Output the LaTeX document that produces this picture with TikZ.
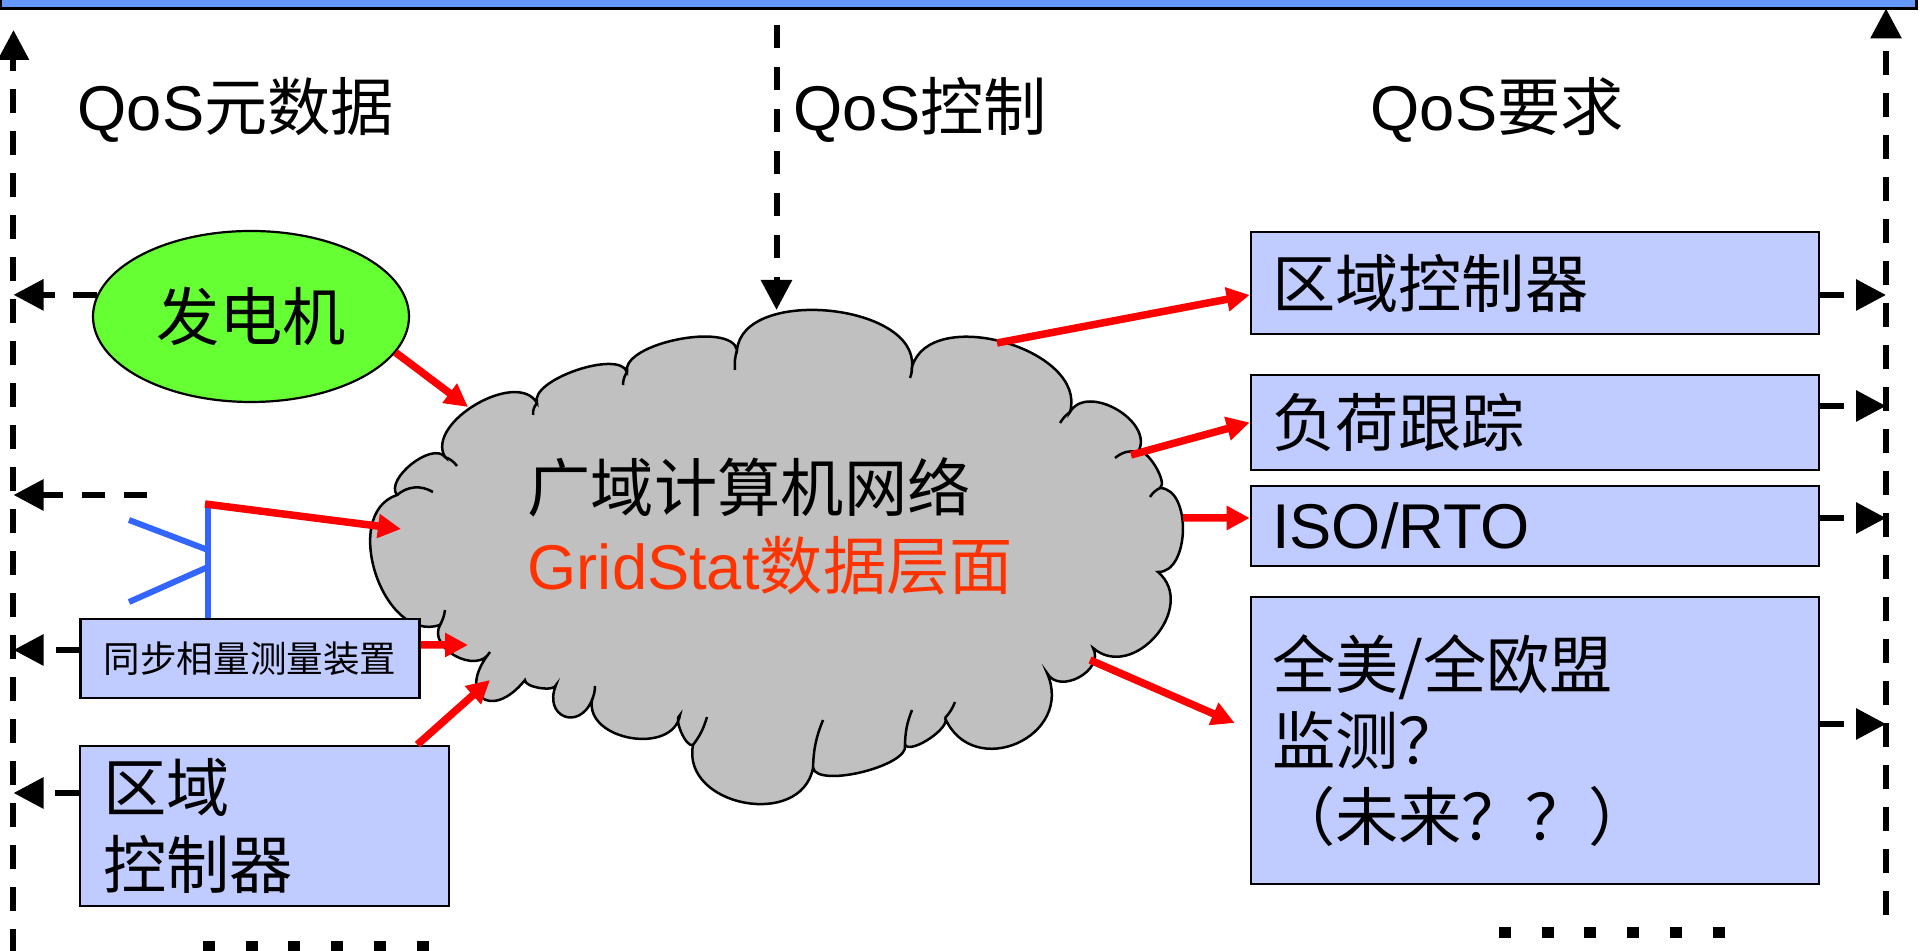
\documentclass[tikz,border=0pt]{standalone}
\usepackage{fontspec}
\setmainfont{Liberation Sans}
\newfontfamily\cjk{Noto Sans CJK SC}
\usetikzlibrary{shapes.geometric, arrows.meta}

\definecolor{barblue}{RGB}{102,153,255}
\definecolor{gengreen}{RGB}{102,255,51}
\definecolor{boxblue}{RGB}{192,203,255}
\definecolor{netgray}{RGB}{192,192,192}
\definecolor{planered}{RGB}{255,51,0}
\definecolor{mastblue}{RGB}{51,102,255}

\tikzset{
  qos/.style={line width=0.06cm, dash pattern=on 0.235cm off 0.185cm,
    -{Triangle[length=0.3cm, width=0.3cm]}},
  feed/.style={red, line width=0.075cm, -{Triangle[length=0.23cm, width=0.23cm]}},
  reqbox/.style={draw, fill=boxblue, line width=0.027cm, text width=5.26cm,
    inner xsep=0.21cm, inner ysep=0, align=left},
  devbox/.style={draw, fill=boxblue, line width=0.027cm, inner sep=0},
  mastline/.style={mastblue, line width=0.06cm},
  etcdots/.style={line width=0.11cm, dash pattern=on 0.12cm off 0.307cm},
}

\begin{document}
\begin{tikzpicture}[font=\fontsize{18}{21.6}\selectfont]
	\useasboundingbox (0,0) rectangle (19.2,-9.51);

	% top bar, cut by the page edge
	\node[draw, fill=barblue, line width=0.03cm, anchor=south west, inner sep=0,
		outer sep=0, minimum width=19.16cm, minimum height=1cm] (topbar) at (0.008,-0.085) {};

	\node[anchor=base west, inner sep=0] (metalabel) at (0.77,-1.31) {QoS{\cjk 元数据}};
	\node[anchor=base west, inner sep=0] (ctrllabel) at (7.93,-1.31) {QoS{\cjk 控制}};
	\node[anchor=base west, inner sep=0] (reqlabel)  at (13.70,-1.31) {QoS{\cjk 要求}};

	% the network cloud
	\draw[fill=netgray, line width=0.025cm] (4.40,-6.25)
		to[bend left=90, looseness=1.12] (3.97,-4.95)
		to[bend left=90, looseness=0.85] (4.45,-4.57)
		to[bend left=90, looseness=0.95] (5.37,-4.03)
		to[bend left=90, looseness=0.65] (6.27,-3.72)
		to[bend left=90, looseness=0.67] (7.37,-3.50)
		to[bend left=90, looseness=0.93] (9.12,-3.67)
		to[bend left=90, looseness=1.02] (10.70,-4.12)
		to[bend left=90, looseness=1.12] (11.38,-4.52)
		to[bend left=90, looseness=0.6]  (11.60,-4.88)
		to[bend left=90, looseness=0.97] (11.58,-5.72)
		to[bend left=90, looseness=1.36] (10.93,-6.48)
		to[bend left=90, looseness=1.24] (10.47,-6.73)
		to[bend left=90, looseness=1.6]  (9.45,-7.18)
		to[bend left=90, looseness=0.6]  (9.05,-7.45)
		to[bend left=90, looseness=0.57] (8.13,-7.68)
		to[bend left=90, looseness=1.31] (6.93,-7.45)
		to[bend left=90, looseness=0.6]  (6.80,-7.15)
		to[bend left=90, looseness=1.18] (5.92,-7.00)
		to[bend left=90, looseness=2.25] (5.56,-6.85)
		to[bend left=90, looseness=0.6]  (5.25,-6.80)
		to[bend left=90, looseness=3.1]  (4.90,-6.52)
		to[bend left=90, looseness=1.2]  (4.40,-6.25) -- cycle;
	% creases of the cloud
	\draw[line width=0.025cm]
		(3.97,-4.95) to[bend left=35] (4.33,-4.92)
		(4.45,-4.57) to[bend left=15] (4.57,-4.66)
		(5.37,-4.03) to[bend right=20] (5.33,-4.15)
		(6.27,-3.72) to[bend right=15] (6.23,-3.85)
		(7.37,-3.50) to[bend right=10] (7.35,-3.70)
		(9.12,-3.67) to[bend left=10] (9.10,-3.78)
		(10.70,-4.12) to[bend right=10] (10.60,-4.23)
		(11.38,-4.52) to[bend right=25] (11.15,-4.58)
		(11.60,-4.88) to[bend right=15] (11.50,-4.97)
		(9.45,-7.18) to[bend right=10] (9.55,-7.02)
		(9.05,-7.45) to[bend left=10] (9.12,-7.10)
		(8.13,-7.68) to[bend left=10] (8.23,-7.20)
		(6.93,-7.45) to[bend right=10] (7.07,-7.17)
		(5.92,-7.00) to[bend right=10] (5.95,-6.86)
		(4.40,-6.25) to[bend right=10] (4.45,-6.10);

	\node[anchor=base west, inner sep=0] (netname) at (5.27,-5.12) {{\cjk 广域计算机网络}};
	\node[anchor=base west, inner sep=0, text=planered] (netplane) at (5.27,-5.90)
		{GridStat{\cjk 数据层面}};

	% sources on the left
	\node[ellipse, draw, fill=gengreen, line width=0.022cm, minimum width=3.16cm,
		minimum height=1.71cm, inner sep=0] (gen) at (2.51,-3.165) {{\cjk 发电机}};
	\node[devbox, minimum width=3.39cm, minimum height=0.79cm,
		font=\fontsize{10.4}{12}\selectfont] (pmu) at (2.50,-6.585) {{\cjk 同步相量测量装置}};
	\node[devbox, minimum width=3.69cm, minimum height=1.60cm, text width=3.23cm,
		inner xsep=0.23cm, align=left, font=\fontsize{18}{22.1}\selectfont] (ctrl)
		at (2.645,-8.26) {{\cjk 区域}\\{\cjk 控制器}};

	% consumers on the right
	\node[reqbox, minimum height=1.02cm] (req1) at (15.35,-2.83)  {{\cjk 区域控制器}};
	\node[reqbox, minimum height=0.95cm] (req2) at (15.35,-4.225) {{\cjk 负荷跟踪}};
	\node[reqbox, minimum height=0.80cm] (req3) at (15.35,-5.26)  {ISO/RTO};
	\node[reqbox, minimum height=2.87cm] (req4) at (15.35,-7.405)
		{{\cjk 全美/全欧盟}\\{\cjk 监测？}\\{\cjk （未来？？）}};

	% antenna of the PMU
	\coordinate (antenna) at (2.05,-5.04);
	\draw[mastline] ([xshift=-0.42cm]pmu.north) -- (2.08,-5.07);
	\draw[mastline] (1.29,-5.20) -- (2.08,-5.50);
	\draw[mastline] (1.29,-6.02) -- (2.08,-5.67);

	% ends on the cloud and on the side lines
	\coordinate (netgen)  at (4.68,-4.07);
	\coordinate (netant)  at (4.01,-5.29);
	\coordinate (netpmu)  at (4.68,-6.45);
	\coordinate (netctl)  at (4.90,-6.80);
	\coordinate (netarea) at (9.97,-3.43);
	\coordinate (netload) at (11.31,-4.55);
	\coordinate (netiso)  at (11.83,-5.18);
	\coordinate (netmon)  at (10.90,-6.60);
	\coordinate (ctrltop) at (7.765,-0.25);
	\coordinate (ctrlend) at (7.765,-3.10);
	\coordinate (ltop) at (0.135,-0.30);
	\coordinate (lbot) at (0.135,-9.53);
	\coordinate (rbot) at (18.86,-9.15);
	\coordinate (antmeta) at (1.47,-4.95);
	\coordinate (genout)  at (gen.172);
	\coordinate (pmuout)  at ([yshift=0.085cm]pmu.west);
	\coordinate (ctrlout) at ([yshift=0.33cm]ctrl.west);
	\coordinate (req1out) at ([yshift=-0.12cm]req1.east);
	\coordinate (req2out) at ([yshift=0.165cm]req2.east);
	\coordinate (req3out) at ([yshift=0.08cm]req3.east);
	\coordinate (req4out) at ([yshift=0.165cm]req4.east);

	% data flow
	\draw[feed] (gen.-14) -- (netgen);
	\draw[feed] (antenna) -- (netant);
	\draw[feed] ([yshift=0.135cm]pmu.east) -- (netpmu);
	\draw[feed] ([xshift=-0.33cm]ctrl.north east) -- (netctl);
	\draw[feed] (netarea) -- ([yshift=-0.12cm]req1.west);
	\draw[feed] (netload) -- (req2.west);
	\draw[feed] (netiso) -- ([yshift=0.08cm]req3.west);
	\draw[feed] (netmon) -- ([xshift=-0.15cm, yshift=0.175cm]req4.west);

	% QoS lines
	\draw[qos] (lbot) -- (ltop);
	\draw[qos] (rbot) -- (rbot |- topbar.south);
	\draw[qos] (ctrltop) -- (ctrlend);
	\draw[qos] (genout) -- (genout -| ltop);
	\draw[qos] (antmeta) -- (antmeta -| ltop);
	\draw[qos] (pmuout) -- (pmuout -| ltop);
	\draw[qos] (ctrlout) -- (ctrlout -| ltop);
	\draw[qos] (req1out) -- (req1out -| rbot);
	\draw[qos] (req2out) -- (req2out -| rbot);
	\draw[qos] (req3out) -- (req3out -| rbot);
	\draw[qos] (req4out) -- (req4out -| rbot);

	% more to come
	\draw[etcdots] (2.03,-9.47) -- (4.29,-9.47);
	\draw[etcdots] (14.99,-9.325) -- (17.25,-9.325);
\end{tikzpicture}
\end{document}
